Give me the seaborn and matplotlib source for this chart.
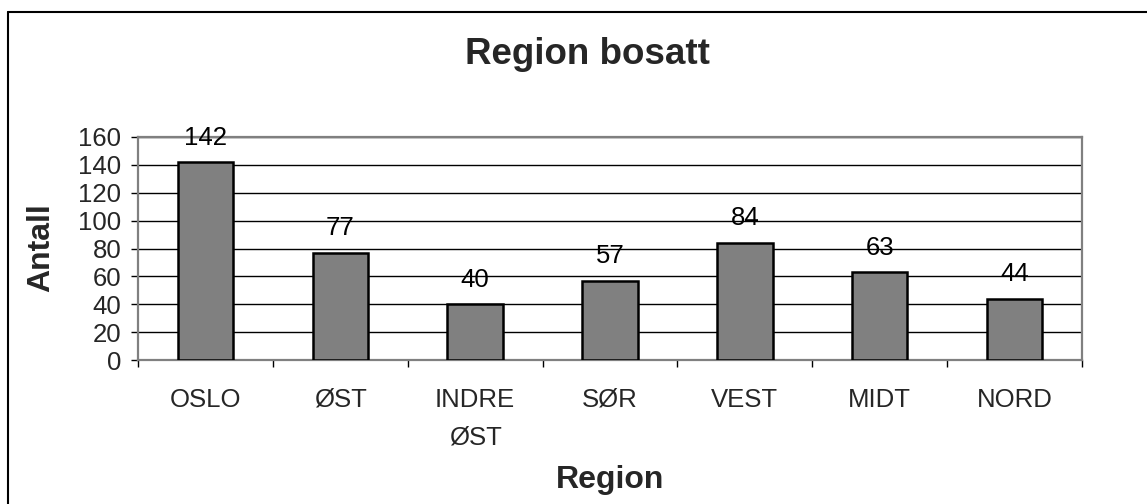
import matplotlib
matplotlib.use("Agg")
import matplotlib.pyplot as plt
import seaborn as sns
import pandas as pd
from matplotlib.lines import Line2D

regions = ["OSLO", "ØST", "INDRE\nØST", "SØR", "VEST", "MIDT", "NORD"]
counts = [142, 77, 40, 57, 84, 63, 44]
yticks = [0, 20, 40, 60, 80, 100, 120, 140, 160]

sns.set_theme(style="white")
plt.rcParams["font.family"] = ["Liberation Sans", "DejaVu Sans"]

df = pd.DataFrame({"Region": regions, "Antall": counts})

W, H = 1147, 504
fig = plt.figure(figsize=(W / 100, H / 100), dpi=100)
fig.patch.set_facecolor("white")
ax = fig.add_axes([138 / W, 1 - 360 / H, (1082 - 138) / W, (360 - 137) / H])

sns.barplot(data=df, x="Region", y="Antall", color="#808080", saturation=1,
            width=0.41, edgecolor="black", linewidth=1.8, ax=ax, zorder=3)

ax.set_ylim(0, 160)
ax.set_xlim(-0.5, len(regions) - 0.5)
ax.set_yticks(yticks)
ax.yaxis.grid(True, color="black", linewidth=1.0, zorder=0)
ax.set_axisbelow(True)

for s in ax.spines.values():
    s.set_visible(True)
    s.set_color("#808080")
    s.set_linewidth(1.6)

ax.tick_params(axis="y", direction="out", length=5, width=1, color="black",
               labelsize=18.5, pad=7, left=True)
ax.tick_params(axis="x", which="major", length=0, labelsize=18.5, pad=20)
ax.set_xticks([i - 0.5 for i in range(len(regions) + 1)], minor=True)
ax.tick_params(axis="x", which="minor", direction="out", length=5, width=1,
               color="black", bottom=True)
for lab in ax.get_xticklabels():
    lab.set_linespacing(1.7)

ax.bar_label(ax.containers[0], labels=[str(v) for v in counts], padding=9,
             fontsize=18.5, color="black")

ax.set_xlabel("")
ax.set_ylabel("")
fig.text(610 / W, 1 - 480 / H, "Region", fontsize=23, fontweight="bold",
         ha="center", va="center")
fig.text(41 / W, 1 - 248 / H, "Antall", fontsize=23, fontweight="bold",
         ha="center", va="center", rotation=90)
fig.text(587 / W, 1 - 54 / H, "Region bosatt", fontsize=26.5, fontweight="bold",
         ha="center", va="center")

# outer chart border (left and top)
fig.add_artist(Line2D([8 / W, 8 / W], [0, 1 - 12 / H], color="black", linewidth=1.5,
                      transform=fig.transFigure))
fig.add_artist(Line2D([8 / W, 1], [1 - 12 / H, 1 - 12 / H], color="black", linewidth=1.5,
                      transform=fig.transFigure))

fig.savefig("out.png", dpi=100, facecolor="white")
